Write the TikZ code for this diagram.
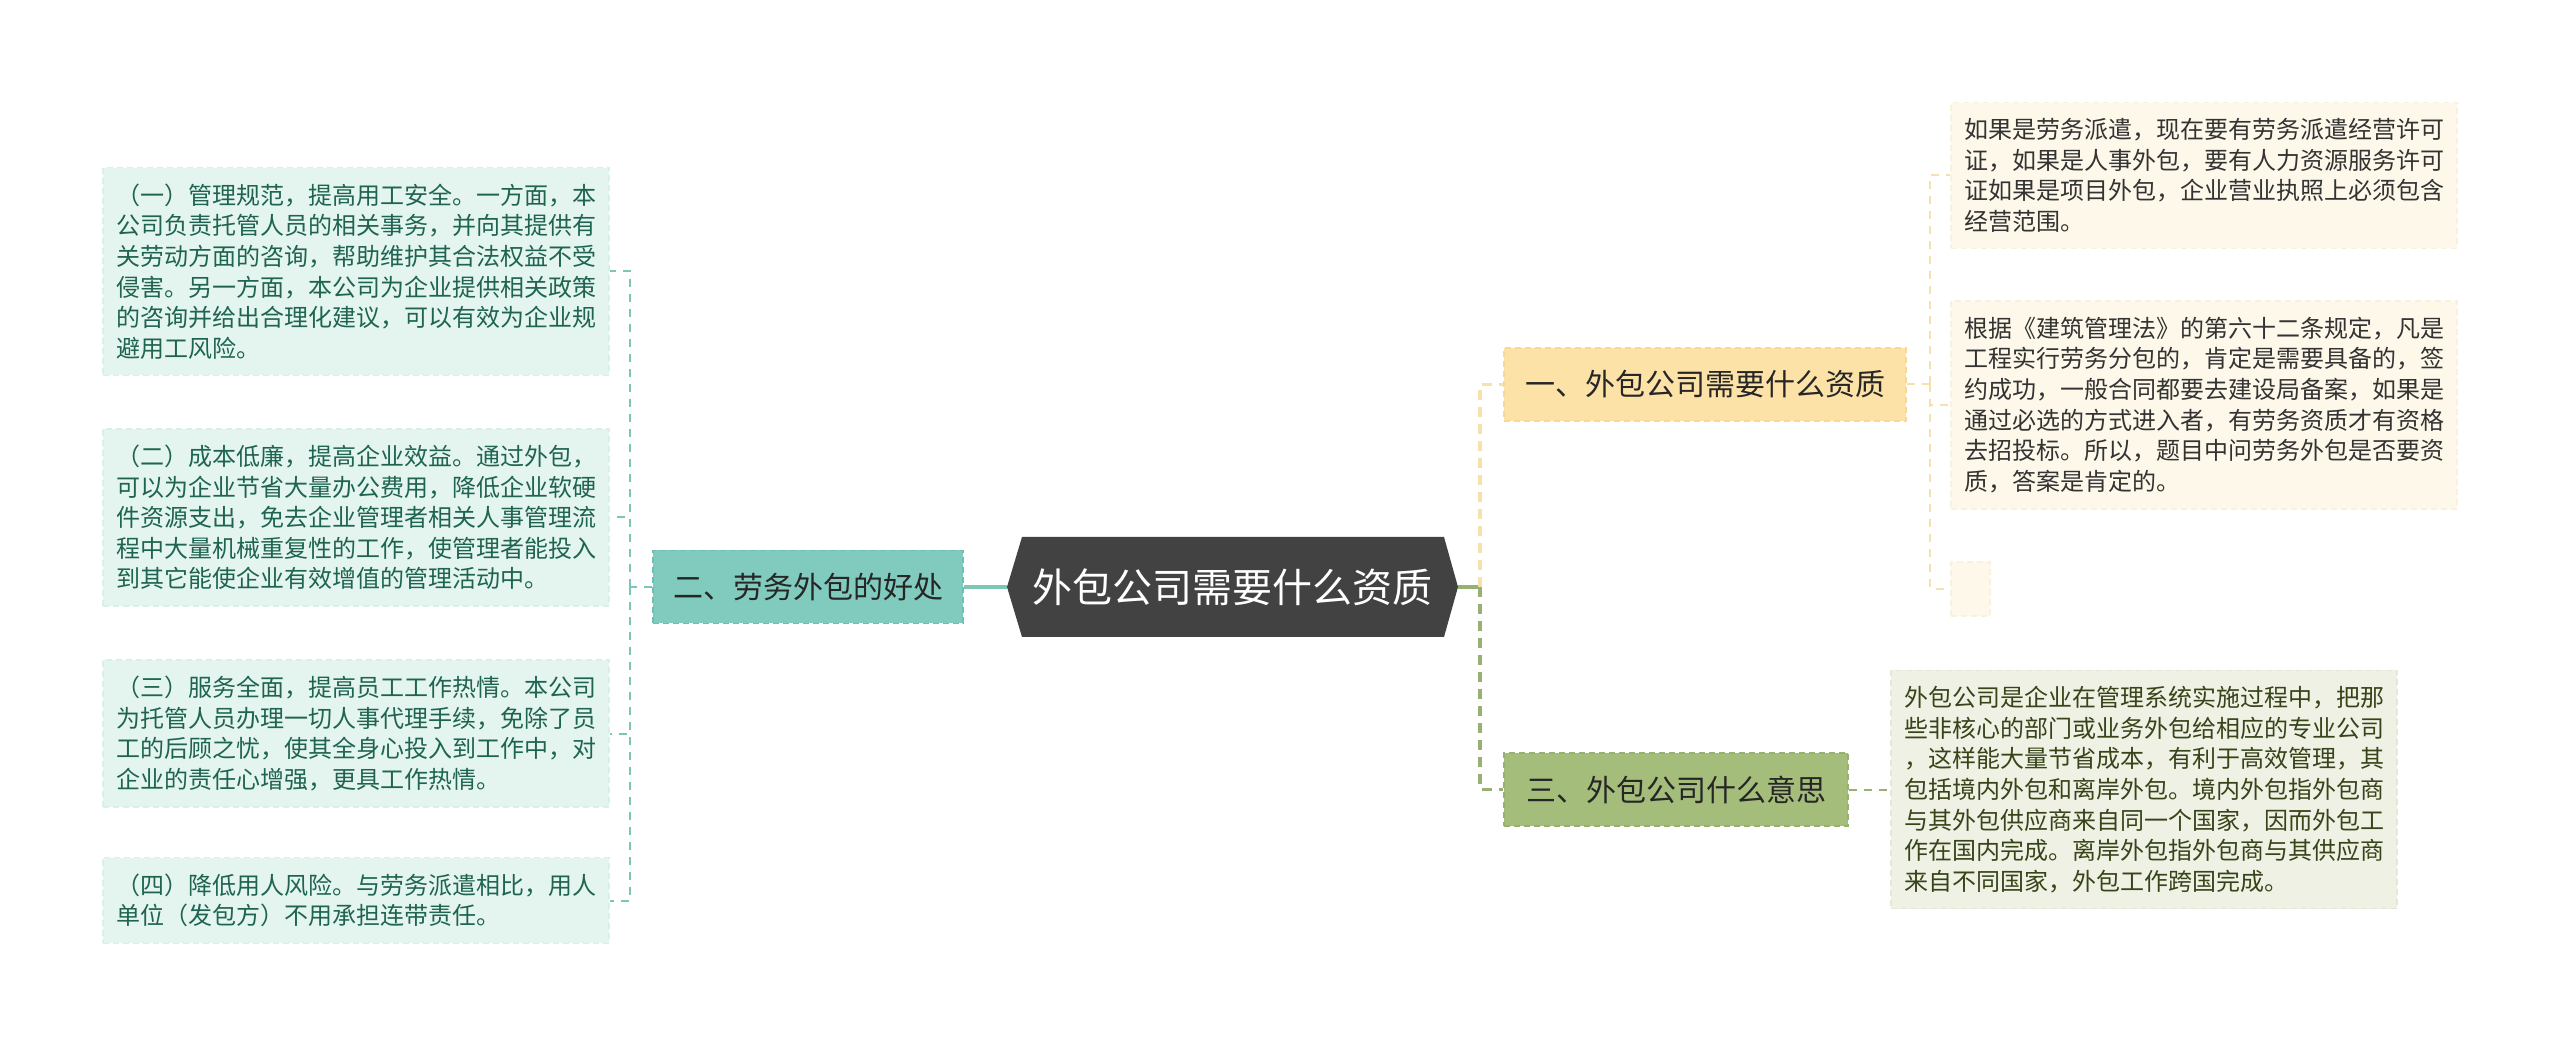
\documentclass[tikz,border=0pt]{standalone}
\usepackage{fontspec}
\setmainfont{Noto Sans CJK SC}
\usepackage{tikz}

\definecolor{rootfill}{RGB}{66,66,66}
\definecolor{tealfill}{RGB}{128,203,190}
\definecolor{tealedge}{RGB}{112,192,178}
\definecolor{tealline}{RGB}{125,197,183}
\definecolor{tealleaffill}{RGB}{228,245,240}
\definecolor{tealleafedge}{RGB}{216,240,233}
\definecolor{tealtext}{RGB}{30,100,80}
\definecolor{yellowfill}{RGB}{253,226,167}
\definecolor{yellowedge}{RGB}{248,216,150}
\definecolor{yellowline}{RGB}{246,224,172}
\definecolor{creamfill}{RGB}{253,248,233}
\definecolor{creamedge}{RGB}{248,241,220}
\definecolor{greenfill}{RGB}{165,189,123}
\definecolor{greenedge}{RGB}{152,178,110}
\definecolor{greenline}{RGB}{152,176,116}
\definecolor{paleolive}{RGB}{238,241,228}
\definecolor{paleoliveedge}{RGB}{228,233,214}
\definecolor{olivetext}{RGB}{55,68,25}

\tikzset{
  leafbox/.style={align=left, inner xsep=6.5pt, inner ysep=8pt, minimum width=253pt,
    dash pattern=on 3pt off 2pt, line width=0.6pt,
    font=\fontsize{12pt}{15.3pt}\selectfont},
  tealleaf/.style={leafbox, fill=tealleaffill, draw=tealleafedge, text=tealtext},
  creamleaf/.style={leafbox, fill=creamfill, draw=creamedge, text=black!80},
  oliveleaf/.style={leafbox, fill=paleolive, draw=paleoliveedge, text=olivetext},
  branchbox/.style={inner xsep=4pt, minimum height=36.5pt, dash pattern=on 3pt off 2pt,
    line width=0.7pt, font=\fontsize{15pt}{18pt}\selectfont},
  tealline/.style={draw=tealline, line width=2pt},
  tealdash/.style={draw=tealline, line width=1pt, dash pattern=on 4pt off 3.5pt},
  greenline/.style={draw=greenline, line width=1.6pt},
  greendash/.style={draw=greenline, line width=1.6pt, dash pattern=on 5pt off 3.5pt},
  yellowdash/.style={draw=yellowline, line width=1.6pt, dash pattern=on 5pt off 3.5pt},
  yellowthin/.style={draw=yellowline, line width=1pt, dash pattern=on 4pt off 3.5pt},
  greenthin/.style={draw=greenline, line width=1pt, dash pattern=on 4pt off 3.5pt}
}

\begin{document}
\begin{tikzpicture}[x=0.5pt,y=0.5pt,yscale=-1,xscale=1]
%set diagram left start at 0, and has height of 1047
\useasboundingbox (0,0) rectangle (2560,1047);
\fill [white] (0,0) rectangle (2560,1047);

%Shape: Hexagon [root]
\fill [rootfill] (1007,587) -- (1022,537) -- (1444,537) -- (1458,587) -- (1444,637) -- (1022,637) -- cycle;
% Text Node
\node [minimum width=225.5pt, minimum height=50pt, text=white, font=\fontsize{20pt}{24pt}\selectfont] (root) at (1232.5,587) {外包公司需要什么资质};

% Text Node
\node [branchbox, minimum width=155pt, fill=tealfill, draw=tealedge, text=black!85] (b2) at (808,587) {二、劳务外包的好处};
% Text Node
\node [branchbox, minimum width=201pt, fill=yellowfill, draw=yellowedge, text=black!85] (b1) at (1705,384.5) {一、外包公司需要什么资质};
% Text Node
\node [branchbox, minimum width=172pt, fill=greenfill, draw=greenedge, text=black!85] (b3) at (1676,789.5) {三、外包公司什么意思};

% Text Node
\node [tealleaf] (l1) at (356,271.5) {（一）管理规范，提高用工安全。一方面，本\\公司负责托管人员的相关事务，并向其提供有\\关劳动方面的咨询，帮助维护其合法权益不受\\侵害。另一方面，本公司为企业提供相关政策\\的咨询并给出合理化建议，可以有效为企业规\\避用工风险。};
% Text Node
\node [tealleaf] (l2) at (356,517.5) {（二）成本低廉，提高企业效益。通过外包，\\可以为企业节省大量办公费用，降低企业软硬\\件资源支出，免去企业管理者相关人事管理流\\程中大量机械重复性的工作，使管理者能投入\\到其它能使企业有效增值的管理活动中。};
% Text Node
\node [tealleaf] (l3) at (356,733.5) {（三）服务全面，提高员工工作热情。本公司\\为托管人员办理一切人事代理手续，免除了员\\工的后顾之忧，使其全身心投入到工作中，对\\企业的责任心增强，更具工作热情。};
% Text Node
\node [tealleaf] (l4) at (356,900.5) {（四）降低用人风险。与劳务派遣相比，用人\\单位（发包方）不用承担连带责任。};

% Text Node
\node [creamleaf] (ra) at (2204,175.5) {如果是劳务派遣，现在要有劳务派遣经营许可\\证，如果是人事外包，要有人力资源服务许可\\证如果是项目外包，企业营业执照上必须包含\\经营范围。};
% Text Node
\node [creamleaf] (rb) at (2204,405) {根据《建筑管理法》的第六十二条规定，凡是\\工程实行劳务分包的，肯定是需要具备的，签\\约成功，一般合同都要去建设局备案，如果是\\通过必选的方式进入者，有劳务资质才有资格\\去招投标。所以，题目中问劳务外包是否要资\\质，答案是肯定的。};
% Text Node
\node [creamleaf, minimum width=19.5pt, minimum height=27pt, inner sep=0pt] (rc) at (1970.5,589) {};
% Text Node
\node [oliveleaf] (rd) at (2144,789.5) {外包公司是企业在管理系统实施过程中，把那\\些非核心的部门或业务外包给相应的专业公司\\，这样能大量节省成本，有利于高效管理，其\\包括境内外包和离岸外包。境内外包指外包商\\与其外包供应商来自同一个国家，因而外包工\\作在国内完成。离岸外包指外包商与其供应商\\来自不同国家，外包工作跨国完成。};

%Straight Lines [left]
\coordinate (lbus) at (630,587);
\draw [tealline] (root.west) -- (b2.east);
\draw [tealdash] (b2.west) -- (lbus);
\foreach \n in {l1,l2,l3,l4}
  \draw [tealdash] (lbus) |- (\n.east);

%Straight Lines [right]
\coordinate (rbus) at (1480,587);
\coordinate (tbus) at (1930,384.5);
\draw [greenline] (root.east) -- (rbus);
\draw [yellowdash] (rbus) |- (b1.west);
\draw [greendash] (rbus) |- (b3.west);
\draw [yellowthin] (b1.east) -- (tbus);
\foreach \n in {ra,rb,rc}
  \draw [yellowthin] (tbus) |- (\n.west);
\draw [greenthin] (b3.east) -- (rd.west);

\end{tikzpicture}
\end{document}
